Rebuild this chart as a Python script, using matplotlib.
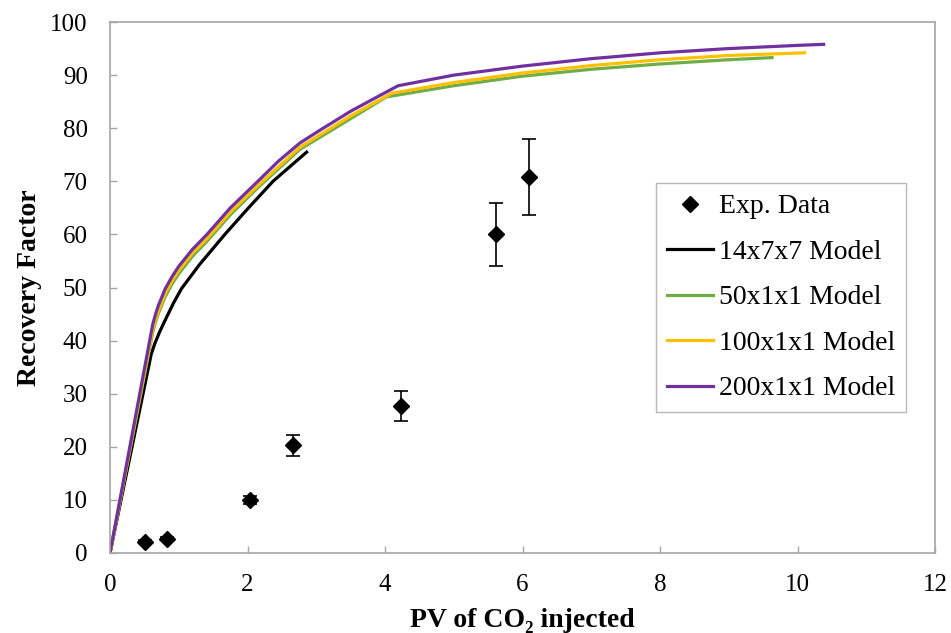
import matplotlib
matplotlib.use("Agg")
import matplotlib.pyplot as plt
from matplotlib.lines import Line2D

plt.rcParams["font.family"] = ["Liberation Serif", "DejaVu Serif"]

# experimental data
exp_pv = [0.51, 0.83, 2.04, 2.66, 4.23, 5.61, 6.09]
exp_rf = [2.1, 2.7, 10.0, 20.3, 27.7, 60.0, 70.8]
exp_err = [0.3, 0.3, 0.8, 2.0, 2.8, 5.9, 7.1]

# model curves
m14_pv = [0, 0.6, 0.65, 0.72, 0.8, 0.92, 1.04, 1.3, 1.67, 2.0, 2.37, 2.86]
m14_rf = [0, 37.5, 39.4, 41.6, 43.8, 47.0, 49.8, 54.3, 60.0, 64.8, 70.0, 75.5]

m50_pv = [0, 0.62, 0.66, 0.7, 0.8, 0.9, 1.0, 1.2, 1.41, 1.75, 2.15, 2.76, 3.5, 4.02,
          5, 6, 7, 8, 9, 9.63]
m50_rf = [0, 41.5, 43.4, 45.0, 48.2, 50.6, 52.6, 55.9, 58.7, 63.7, 68.8, 76.0, 81.8, 85.9,
          88.0, 89.8, 91.1, 92.1, 92.9, 93.3]

m100_pv = [0, 0.62, 0.66, 0.7, 0.8, 0.9, 1.0, 1.2, 1.41, 1.75, 2.15, 2.76, 3.5, 4.1,
           5, 6, 7, 8, 9, 10.1]
m100_rf = [0, 42.0, 43.9, 45.5, 48.8, 51.2, 53.2, 56.5, 59.2, 64.2, 69.2, 76.4, 82.3, 86.6,
           88.6, 90.4, 91.8, 92.9, 93.7, 94.2]

m200_pv = [0, 0.62, 0.66, 0.7, 0.8, 0.9, 1.0, 1.2, 1.41, 1.75, 2.15, 2.45, 2.76, 3.05,
           3.5, 3.93, 4.19, 5, 6, 7, 8, 9, 10, 10.38]
m200_rf = [0, 43.0, 44.9, 46.5, 49.7, 52.0, 54.0, 57.2, 60.0, 65.0, 70.0, 73.8, 77.2, 79.6,
           83.2, 86.2, 88.0, 90.0, 91.7, 93.1, 94.2, 95.0, 95.6, 95.8]

fig = plt.figure(figsize=(9.51, 6.33), dpi=100)
ax = fig.add_axes([0.1157, 0.1264, 0.8675, 0.8388])

lw = 2.3
l14, = ax.plot(m14_pv, m14_rf, color="black", lw=lw, label="14x7x7 Model")
l50, = ax.plot(m50_pv, m50_rf, color="#70AD47", lw=lw, label="50x1x1 Model")
l100, = ax.plot(m100_pv, m100_rf, color="#FFC000", lw=lw, label="100x1x1 Model")
l200, = ax.plot(m200_pv, m200_rf, color="#7030A0", lw=lw, label="200x1x1 Model")
ax.errorbar(exp_pv, exp_rf, yerr=exp_err, fmt="D", color="black", ms=8.5,
            ecolor="black", elinewidth=1.2, capsize=5, capthick=1.2, zorder=5)
exp_handle = Line2D([], [], ls="none", marker="D", color="black", ms=8.5,
                    label="Exp. Data")

ax.set_xlim(0, 12)
ax.set_ylim(0, 100)
ax.set_xticks(range(0, 13, 2))
ax.set_yticks(range(0, 101, 10))
ax.tick_params(direction="in", length=5, width=1, color="#a6a6a6", labelsize=18)
ax.tick_params(axis="y", pad=16)
ax.tick_params(axis="x", pad=15)
for s in ax.spines.values():
    s.set_color("#a6a6a6")
    s.set_linewidth(1.2)

ax.set_xlabel("PV of CO\u2082 injected", fontsize=20, fontweight="bold", labelpad=9)
ax.set_ylabel("Recovery Factor", fontsize=20, fontweight="bold", labelpad=6)

leg = ax.legend(handles=[exp_handle, l14, l50, l100, l200], loc="upper left",
                bbox_to_anchor=(0.662, 0.697), fontsize=20, frameon=True,
                fancybox=False, edgecolor="#a6a6a6", labelspacing=0.72,
                handlelength=1.65, handletextpad=0.2, borderpad=0.4,
                borderaxespad=0)
leg.get_frame().set_linewidth(1.0)

fig.savefig("out.png", dpi=100)
plt.close(fig)
